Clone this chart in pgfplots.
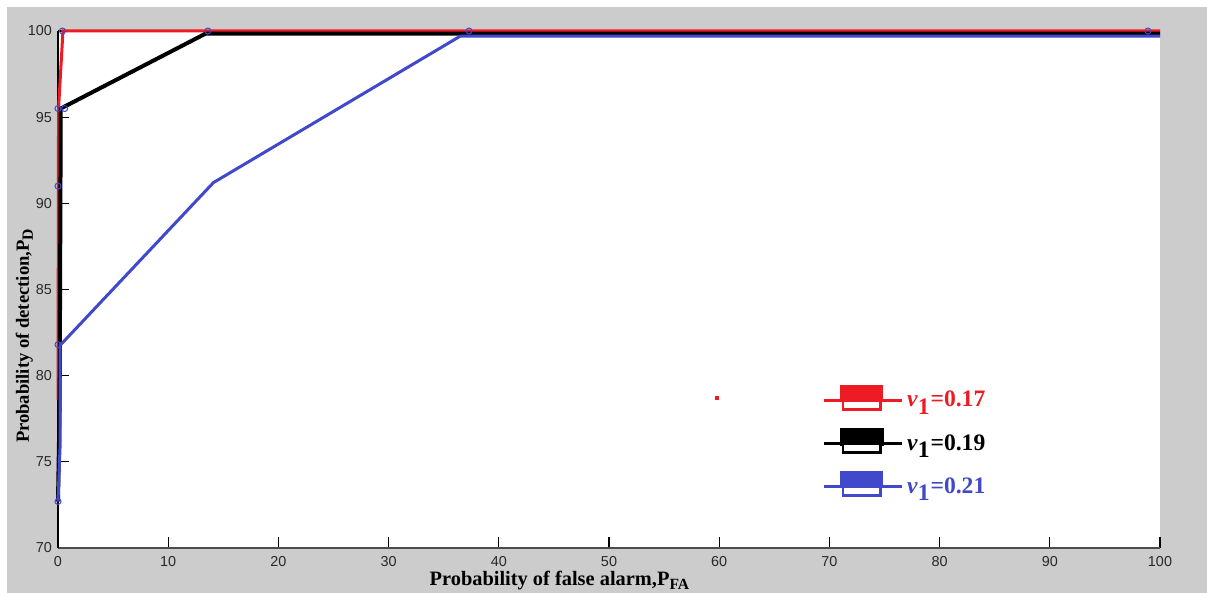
\documentclass[border=0pt]{standalone}
\usepackage{fontspec}
\setmainfont{Liberation Serif}
\newfontfamily\arialfont{Liberation Sans}
\usepackage{pgfplots}
\pgfplotsset{compat=1.18}
\definecolor{mred}{RGB}{237,28,36}
\definecolor{mblue}{RGB}{64,72,204}
\definecolor{bggray}{RGB}{204,204,204}
\definecolor{ticktext}{RGB}{40,40,40}
\newcommand{\lsub}[2]{\raisebox{-#2}{\fontsize{7.8}{8}\selectfont #1}}
\pgfplotsset{
  mleg/.style={legend image code/.code={
    \draw[#1,line width=1.5pt] (0pt,0pt) -- (39pt,0pt);
    \fill[#1] (9pt,0pt) rectangle (29pt,7pt);
    \draw[#1,line width=1.2pt,fill=white] (9.6pt,-4.4pt) rectangle (28.4pt,0pt);
  }}
}
\begin{document}
\begin{tikzpicture}[x=1pt,y=1pt]
\useasboundingbox (-29,-22.5) rectangle (574.5,274);
\fill[bggray] (-25.5,-22.5) rectangle (574.5,270.5);
\begin{axis}[
  at={(0,0)}, anchor=south west,
  scale only axis, width=551pt, height=258.5pt,
  xmin=0, xmax=100, ymin=70, ymax=100,
  xtick={0,10,...,100}, ytick={70,75,...,100},
  axis x line=bottom, axis y line=left,
  axis line style={-, line width=0.6pt},
  x axis line style={draw=black!70},
  y axis line style={draw=black},
  tick align=inside, major tick length=5.5pt,
  tick style={black, line width=0.6pt},
  axis background/.style={fill=white},
  clip=false,
  /pgf/number format/assume math mode=true,
  tick label style={font=\arialfont\fontsize{7.2}{8}\selectfont, text=ticktext},
  yticklabel style={xshift=0.5pt},
  xticklabel style={yshift=-0.5pt},
  xlabel={\textbf{Probability of false alarm,P\lsub{\textbf{FA}}{2.2pt}}},
  ylabel={\textbf{Probability of detection,P\lsub{\textbf{D}}{2pt}}},
  xlabel style={font=\fontsize{10.2}{12}\selectfont, at={(axis description cs:0.455,-0.062)}, anchor=center},
  ylabel style={font=\fontsize{9.3}{11}\selectfont, at={(axis description cs:-0.0305,0.41)}, anchor=center, rotate=0},
  legend style={at={(axis description cs:0.693,0.316)}, anchor=north west,
    draw=none, fill=none, inner sep=0pt,
    font=\fontsize{11.8}{14}\selectfont,
    row sep=7pt},
  legend cell align=left,
]
\addplot[color=mred, line width=1.5pt, mleg] coordinates {
  (0,78.6) (0.05,95.5) (0.45,100) (100,100)
};
\addlegendentry{\textcolor{mred}{\textbf{\textit{ν}$_{\textbf{1}}$=0.17}}}
\addplot[color=black, line width=2pt, mleg] coordinates {
  (0,72.7) (0.15,78.4) (0.25,95.5) (13.4,99.85) (100,99.85)
};
\addlegendentry{\textbf{\textit{ν}$_{\textbf{1}}$=0.19}}
\addplot[color=mblue, line width=1.5pt, mleg] coordinates {
  (0,72.7) (0.2,76.1) (0.2,81.8) (0.4,81.9) (14.1,91.2) (36.5,99.7) (100,99.7)
};
\addlegendentry{\textcolor{mblue}{\textbf{\textit{ν}$_{\textbf{1}}$=0.21}}}
\addplot[only marks, mark=o, mark size=1.5pt, color=mblue, line width=0.5pt, forget plot] coordinates {
  (0,72.7) (0,81.8) (0,91.0) (0,95.5) (0.6,95.5) (0.4,100) (13.6,100) (37.3,100) (98.9,100)
};
\addplot[only marks, mark=square*, mark size=0.6pt, color=mred, forget plot] coordinates {
  (59.8,78.7)
};
\end{axis}
\end{tikzpicture}
\end{document}
